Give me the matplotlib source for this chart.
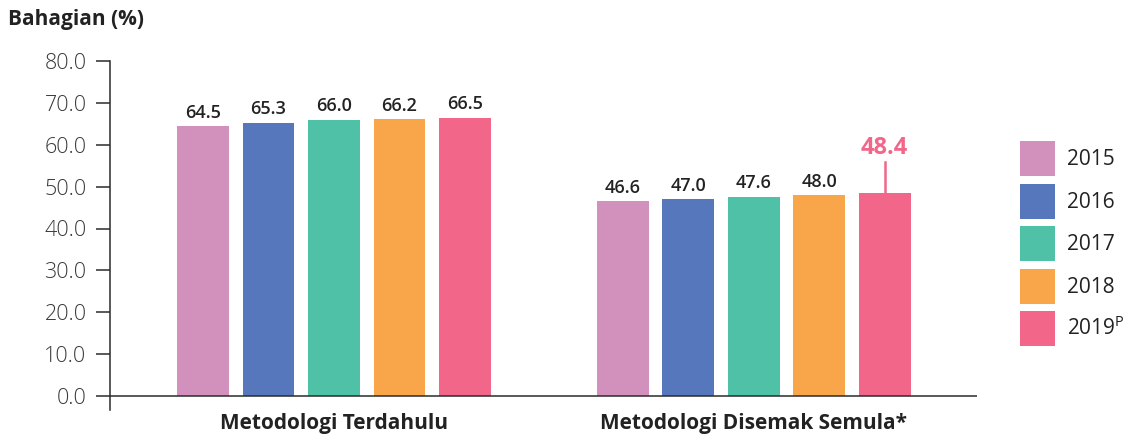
import matplotlib
matplotlib.use("Agg")
import matplotlib.pyplot as plt
import matplotlib.transforms as mtransforms
import numpy as np
from matplotlib.patches import Patch

plt.rcParams['font.family'] = ['Open Sans', 'DejaVu Sans']
plt.rcParams['mathtext.fontset'] = 'custom'
plt.rcParams['mathtext.rm'] = 'Open Sans'

categories = ["Metodologi Terdahulu", "Metodologi Disemak Semula*"]
years = ["2015", "2016", "2017", "2018", "2019$^{\\mathrm{P}}$"]
values = {
    "2015": [64.5, 46.6],
    "2016": [65.3, 47.0],
    "2017": [66.0, 47.6],
    "2018": [66.2, 48.0],
    "2019": [66.5, 48.4],
}
colors = ["#D291BC", "#5777BD", "#4FC1A6", "#F9A54A", "#F26689"]
yticks = [0, 10, 20, 30, 40, 50, 60, 70, 80]

W, H = 1127, 438
fig = plt.figure(figsize=(W / 100, H / 100), dpi=100)
ax = fig.add_axes([110 / W, 1 - 410 / H, (977 - 110) / W, (410 - 61) / H])

ymin = -(410 - 396) / ((396 - 61) / 80)
group_gap = 6.41
centers = np.array([2.0, 2.0 + group_gap])
bw = 0.79
axis_color = "#2b2b2b"

keys = list(values.keys())
for i, k in enumerate(keys):
    xs = centers + (i - 2)
    vals = values[k]
    ax.bar(xs, vals, width=bw, color=colors[i], zorder=2)
    for j, (x, v) in enumerate(zip(xs, vals)):
        if i == 4 and j == 1:
            ax.plot([x, x], [v, v + 7.6], color=colors[i], lw=1.8, zorder=3)
            ax.text(x, v + 8.0, f"{v:.1f}", ha="center", va="bottom",
                    fontsize=17, fontweight="bold", color=colors[i])
        else:
            ax.text(x, v + 1.0, f"{v:.1f}", ha="center", va="bottom",
                    fontsize=13, fontweight="semibold", color="#222222")

ax.set_xlim(-1.42, 11.82)
ax.set_ylim(ymin, 80)
ax.set_yticks(yticks)
ax.set_yticklabels([f"{t:.1f}" for t in yticks], fontsize=15.5, color="#3a3a3a",
                   fontweight="light")
ax.tick_params(axis="y", direction="out", length=10, width=1.1, color=axis_color, pad=7)
ax.set_xticks([])
for s in ["top", "right", "bottom"]:
    ax.spines[s].set_visible(False)
ax.spines["left"].set_color(axis_color)
ax.spines["left"].set_linewidth(1.1)
ax.axhline(0, color=axis_color, lw=1.1, zorder=4)

trans = mtransforms.blended_transform_factory(ax.transData, fig.transFigure)
for c, lab in zip(centers, categories):
    ax.text(c, 1 - 424 / H, lab, transform=trans, ha="center",
            va="center", fontsize=15, fontweight="bold", color="#222222")

fig.text(8 / W, 1 - 20 / H, "Bahagian (%)", fontsize=15, fontweight="bold",
         color="#222222", ha="left", va="center")

handles = [Patch(facecolor=c, edgecolor="none") for c in colors]
fig.legend(handles, years, loc="upper left",
           bbox_to_anchor=(1020 / W, 1 - 141 / H), bbox_transform=fig.transFigure,
           frameon=False, fontsize=15, handlelength=1.68, handleheight=2.21,
           labelspacing=0.36, handletextpad=0.58, borderpad=0, borderaxespad=0,
           labelcolor="#222222")

fig.savefig("out.png", dpi=100)
